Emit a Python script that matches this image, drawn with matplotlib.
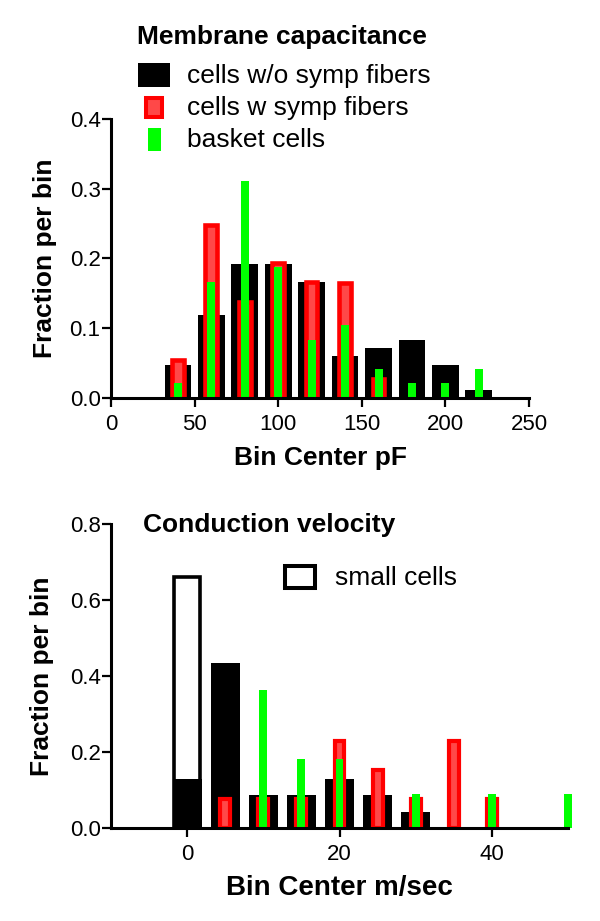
import matplotlib
matplotlib.use("Agg")
import matplotlib.pyplot as plt
from matplotlib.patches import Rectangle

plt.rcParams['font.family'] = ['Liberation Sans', 'DejaVu Sans']

# ---------------- data ----------------
# Membrane capacitance (pF)
cap_bins_wo = [40, 60, 80, 100, 120, 140, 160, 180, 200, 220]
cap_wo = [0.048, 0.119, 0.192, 0.192, 0.167, 0.060, 0.071, 0.083, 0.048, 0.012]
cap_bins_w = [40, 60, 80, 100, 120, 140, 160]
cap_w = [0.055, 0.248, 0.138, 0.193, 0.166, 0.165, 0.027]
cap_bins_basket = [40, 60, 80, 100, 120, 140, 160, 180, 200, 220]
cap_basket = [0.021, 0.167, 0.3115, 0.1875, 0.083, 0.104, 0.042, 0.021, 0.021, 0.042]

# Conduction velocity (m/sec)
cv_bins_small = [0]
cv_small = [0.66]
cv_bins_wo = [0, 5, 10, 15, 20, 25, 30]
cv_wo = [0.13, 0.435, 0.087, 0.087, 0.13, 0.087, 0.043]
cv_bins_w = [5, 10, 15, 20, 25, 30, 35, 40]
cv_w = [0.077, 0.077, 0.077, 0.23, 0.154, 0.077, 0.23, 0.077]
cv_bins_basket = [10, 15, 20, 30, 40, 50]
cv_basket = [0.364, 0.182, 0.182, 0.091, 0.091, 0.091]

cap_xticks = [0, 50, 100, 150, 200, 250]
cap_yticks = [0.0, 0.1, 0.2, 0.3, 0.4]
cv_xticks = [0, 20, 40]
cv_yticks = [0.0, 0.2, 0.4, 0.6, 0.8]

labels = ["cells w/o symp fibers", "cells w symp fibers", "basket cells"]

RED_FILL = '#ff4848'
RED_EDGE = '#ff0000'
GREEN = '#00ff00'

W, H = 600, 921
fig = plt.figure(figsize=(6, 9.21), dpi=100)
ax1 = fig.add_axes([111 / W, 1 - 398 / H, 418 / W, 279 / H])
ax2 = fig.add_axes([111 / W, 1 - 828.3 / H, 457 / W, 304.3 / H])

# ---------------- top chart ----------------
ax1.bar(cap_bins_wo, cap_wo, width=16, color='black', zorder=2)
ax1.bar(cap_bins_w, cap_w, width=7.0, color=RED_FILL, edgecolor=RED_EDGE,
        linewidth=3.3, zorder=3)
ax1.bar(cap_bins_basket, cap_basket, width=4.8, color=GREEN, zorder=4)
ax1.set_xlim(0, 250)
ax1.set_ylim(0, 0.4)
ax1.set_xticks(cap_xticks)
ax1.set_xticklabels([str(v) for v in cap_xticks])
ax1.set_yticks(cap_yticks)
ax1.set_yticklabels([f"{v:.1f}" for v in cap_yticks])

# ---------------- bottom chart ----------------
ax2.bar(cv_bins_small, cv_small, width=3.35, color='white', edgecolor='black',
        linewidth=2.6, zorder=1)
ax2.bar(cv_bins_wo, cv_wo, width=3.8, color='black', zorder=2)
ax2.bar(cv_bins_w, cv_w, width=1.3, color=RED_FILL, edgecolor=RED_EDGE,
        linewidth=3.0, zorder=3)
ax2.bar(cv_bins_basket, cv_basket, width=1.05, color=GREEN, zorder=4, clip_on=False)
ax2.set_xlim(-10, 50)
ax2.set_ylim(0, 0.8)
ax2.set_xticks(cv_xticks)
ax2.set_xticklabels([str(v) for v in cv_xticks])
ax2.set_yticks(cv_yticks)
ax2.set_yticklabels([f"{v:.1f}" for v in cv_yticks])

for ax in (ax1, ax2):
    for s in ('top', 'right'):
        ax.spines[s].set_visible(False)
    for s in ('left', 'bottom'):
        ax.spines[s].set_linewidth(2.2)
        ax.spines[s].set_zorder(5)
    ax.tick_params(axis='both', direction='out', length=6.5, width=1.6,
                   labelsize=16, colors='black')
    ax.tick_params(axis='y', pad=1)
    ax.tick_params(axis='x', pad=5)
    ax.set_facecolor('none')

ax1.set_xlabel("Bin Center pF", fontsize=19, fontweight='bold')
ax1.xaxis.set_label_coords(0.5, (398 - 458) / 279)
ax1.xaxis.label.set_va('center')
ax1.set_ylabel("Fraction per bin", fontsize=19, fontweight='bold')
ax1.yaxis.set_label_coords((45 - 111) / 418, 0.5)
ax1.yaxis.label.set_va('center')

ax2.set_xlabel("Bin Center m/sec", fontsize=20, fontweight='bold')
ax2.xaxis.set_label_coords(0.5, (828.3 - 888) / 304.3)
ax2.xaxis.label.set_va('center')
ax2.set_ylabel("Fraction per bin", fontsize=19, fontweight='bold')
ax2.yaxis.set_label_coords((42 - 111) / 457, 0.5)
ax2.yaxis.label.set_va('center')


# ---------------- legends / titles ----------------
def fx(x):
    return x / W


def fy(y):
    return 1 - y / H


def rect(x0, y0, x1, y1, **kw):
    fig.add_artist(Rectangle((fx(x0), fy(y1)), (x1 - x0) / W, (y1 - y0) / H,
                             transform=fig.transFigure, **kw))


fig.text(fx(137), fy(44), "Membrane capacitance", fontsize=19, fontweight='bold',
         ha='left', va='baseline')
rect(138, 63, 170, 87, facecolor='black', edgecolor='none')
rect(146, 98, 162, 117, facecolor=RED_FILL, edgecolor=RED_EDGE, linewidth=2.9)
rect(148, 128, 161, 151, facecolor=GREEN, edgecolor='none')
for lab, yc in zip(labels, [76, 108, 140]):
    fig.text(fx(187), fy(yc), lab, fontsize=19, ha='left', va='center')

fig.text(fx(143), fy(532), "Conduction velocity", fontsize=19, fontweight='bold',
         ha='left', va='baseline')
rect(285, 566, 315, 588, facecolor='white', edgecolor='black', linewidth=2.9)
fig.text(fx(335), fy(578), "small cells", fontsize=19, ha='left', va='center')

fig.savefig("out.png", dpi=100)
